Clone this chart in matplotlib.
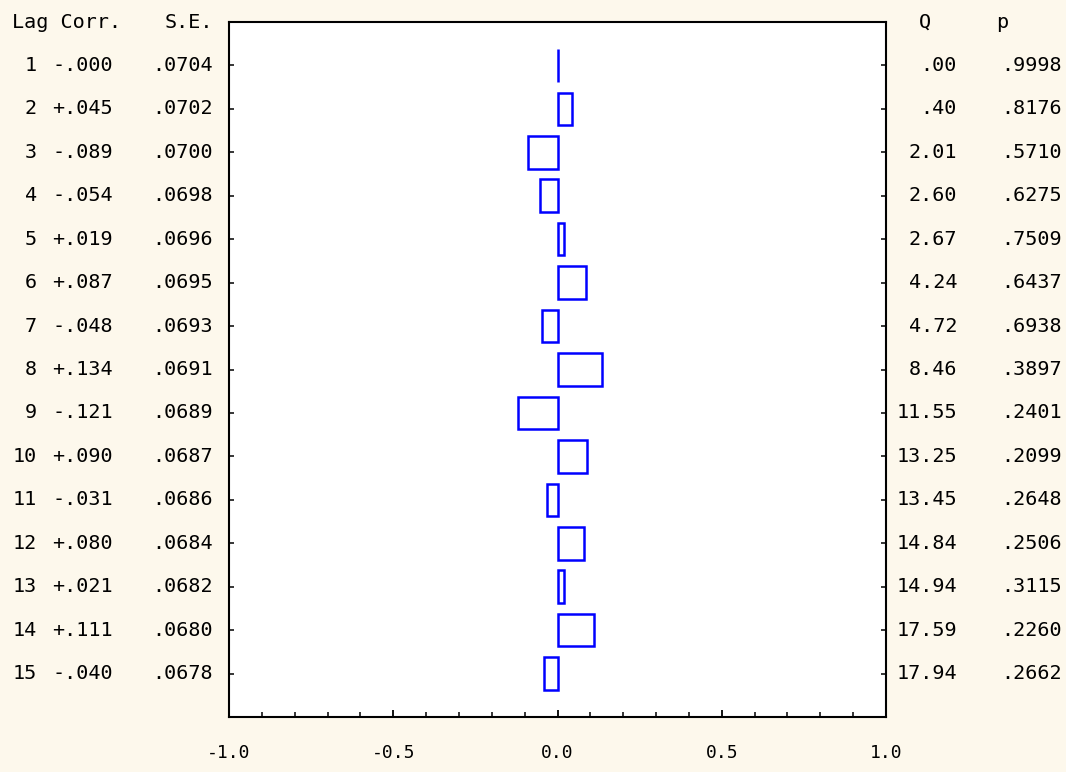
import math
import matplotlib
matplotlib.use("Agg")
import matplotlib.pyplot as plt
from matplotlib.transforms import blended_transform_factory
from matplotlib.ticker import MultipleLocator

lags = list(range(1, 16))
corr = [-0.000, 0.045, -0.089, -0.054, 0.019, 0.087, -0.048, 0.134,
        -0.121, 0.090, -0.031, 0.080, 0.021, 0.111, -0.040]
se = [0.0704, 0.0702, 0.0700, 0.0698, 0.0696, 0.0695, 0.0693, 0.0691,
      0.0689, 0.0687, 0.0686, 0.0684, 0.0682, 0.0680, 0.0678]
q_stat = [0.00, 0.40, 2.01, 2.60, 2.67, 4.24, 4.72, 8.46,
          11.55, 13.25, 13.45, 14.84, 14.94, 17.59, 17.94]
p_val = [0.9998, 0.8176, 0.5710, 0.6275, 0.7509, 0.6437, 0.6938, 0.3897,
         0.2401, 0.2099, 0.2648, 0.2506, 0.3115, 0.2260, 0.2662]
x_ticks = [-1.0, -0.5, 0.0, 0.5, 1.0]
x_tick_labels = ["-1.0", "-0.5", "0.0", "0.5", "1.0"]

BG = "#fdf8ec"
BLUE = "#0000ff"
W, H = 1066, 772

fig = plt.figure(figsize=(W / 100, H / 100), dpi=100, facecolor=BG)
ax = fig.add_axes([229 / W, 1 - 717 / H, (886 - 229) / W, (717 - 22) / H])
ax.set_facecolor("white")

for lag, c in zip(lags, corr):
    ax.barh(lag, c, height=0.75, left=0, facecolor="none",
            edgecolor=BLUE, linewidth=1.8)

ax.set_xlim(-1, 1)
ax.set_ylim(16, 0)
ax.set_xticks(x_ticks)
ax.set_xticklabels([])
ax.xaxis.set_minor_locator(MultipleLocator(0.1))
ax.set_yticks(lags)
ax.set_yticklabels([])
ax.tick_params(axis="x", which="major", direction="in", length=5, width=1.3, top=False)
ax.tick_params(axis="x", which="minor", direction="in", length=3.5, width=1.1, top=False)
ax.tick_params(axis="y", which="major", direction="in", length=3.5, width=1.1,
               left=True, right=True)
for s in ax.spines.values():
    s.set_linewidth(1.5)
    s.set_color("black")

font = "DejaVu Sans Mono"
fs = 14.5
tr = blended_transform_factory(fig.transFigure, ax.transData)


def fmt_corr(v):
    sign = "-" if math.copysign(1, v) < 0 else "+"
    return sign + ("%.3f" % abs(v))[1:]


def fmt_q(v):
    s = "%.2f" % v
    return s[1:] if s.startswith("0") else s


# headers
fig.text(12 / W, 1 - 22 / H, "Lag Corr.", ha="left", va="center",
         family=font, fontsize=fs)
fig.text(213 / W, 1 - 22 / H, "S.E.", ha="right", va="center",
         family=font, fontsize=fs)
fig.text(925 / W, 1 - 22 / H, "Q", ha="center", va="center",
         family=font, fontsize=fs)
fig.text(1002 / W, 1 - 22 / H, "p", ha="center", va="center",
         family=font, fontsize=fs)

for lag, c, s, q, p in zip(lags, corr, se, q_stat, p_val):
    ax.text(37 / W, lag, str(lag), transform=tr, ha="right", va="center",
            family=font, fontsize=fs)
    ax.text(113 / W, lag, fmt_corr(c), transform=tr, ha="right", va="center",
            family=font, fontsize=fs)
    ax.text(213 / W, lag, ("%.4f" % s)[1:], transform=tr, ha="right", va="center",
            family=font, fontsize=fs)
    ax.text(957 / W, lag, fmt_q(q), transform=tr, ha="right", va="center",
            family=font, fontsize=fs)
    ax.text(1062 / W, lag, ("%.4f" % p)[1:], transform=tr, ha="right", va="center",
            family=font, fontsize=fs)

trx = blended_transform_factory(ax.transData, fig.transFigure)
for xv, lab in zip(x_ticks, x_tick_labels):
    ax.text(xv, 1 - 753 / H, lab, transform=trx, ha="center", va="center",
            family=font, fontsize=13)

fig.savefig("out.png", dpi=100, facecolor=BG)
